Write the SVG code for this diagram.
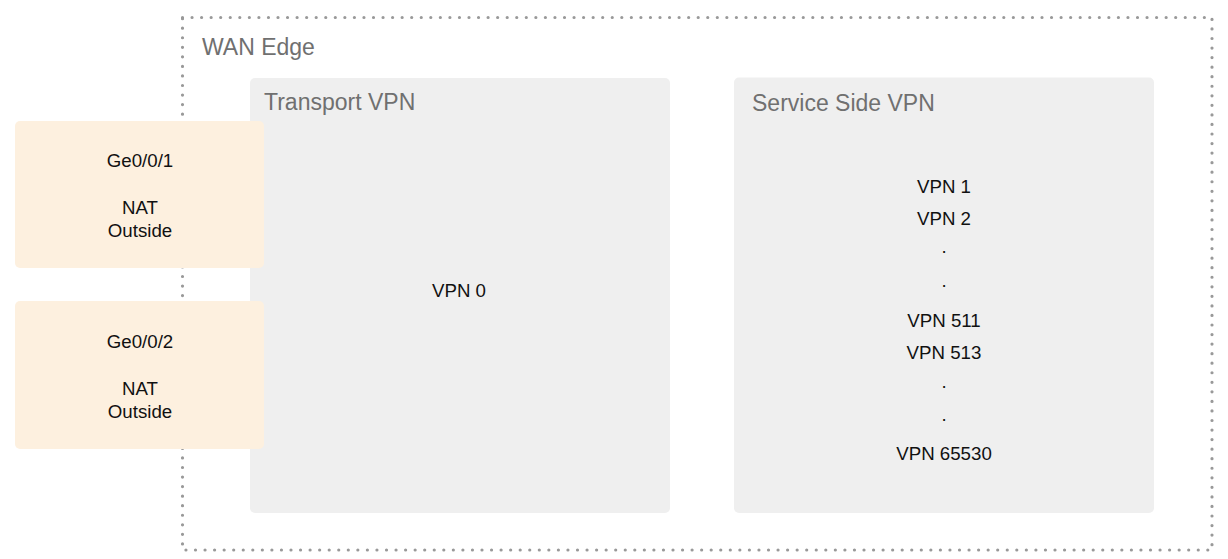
<svg xmlns="http://www.w3.org/2000/svg" width="1228" height="559" viewBox="0 0 1228 559">
  <style>
    .hdr { font-family: "Liberation Sans", Arial, sans-serif; font-size: 23px; fill: #707070; }
    .txt { font-family: "Liberation Sans", Arial, sans-serif; font-size: 18.7px; fill: #111; text-anchor: middle; }
    .panel { fill: #efefef; }
    .port { fill: #fdf0df; }
  </style>
  <rect width="1228" height="559" fill="#ffffff"/>
  <g id="wan-edge">
    <rect x="182.5" y="17.5" width="1029.5" height="532.5" fill="none" stroke="#999999" stroke-width="3.2" stroke-linecap="round" stroke-dasharray="0 9.55"/>
    <text class="hdr" x="202" y="55" fill="#666">WAN Edge</text>
  </g>
  <g id="transport-vpn">
    <rect class="panel" x="250" y="78" width="420" height="435" rx="5"/>
    <text class="hdr" x="264" y="110">Transport VPN</text>
    <text class="txt" x="459" y="297">VPN 0</text>
  </g>
  <g id="service-side-vpn">
    <rect class="panel" x="734" y="77.5" width="420" height="435.5" rx="5"/>
    <text class="hdr" x="752" y="111">Service Side VPN</text>
    <text class="txt" x="944" y="193">VPN 1</text>
    <text class="txt" x="944" y="225">VPN 2</text>
    <text class="txt" x="944" y="253">.</text>
    <text class="txt" x="944" y="287">.</text>
    <text class="txt" x="944" y="327">VPN 511</text>
    <text class="txt" x="944" y="359">VPN 513</text>
    <text class="txt" x="944" y="388">.</text>
    <text class="txt" x="944" y="421">.</text>
    <text class="txt" x="944" y="460">VPN 65530</text>
  </g>
  <g id="ge0-0-1">
    <rect class="port" x="15" y="121" width="249" height="147" rx="5"/>
    <text class="txt" x="140" y="167">Ge0/0/1</text>
    <text class="txt" x="140" y="214">NAT</text>
    <text class="txt" x="140" y="237">Outside</text>
  </g>
  <g id="ge0-0-2">
    <rect class="port" x="15" y="301" width="249" height="148" rx="5"/>
    <text class="txt" x="140" y="348">Ge0/0/2</text>
    <text class="txt" x="140" y="395">NAT</text>
    <text class="txt" x="140" y="418">Outside</text>
  </g>
  <g id="connectors"></g>
</svg>
